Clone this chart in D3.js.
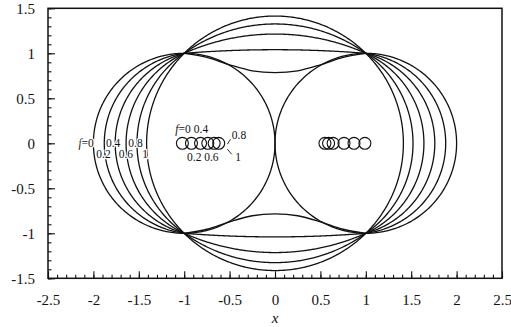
<!DOCTYPE html>
<html>
<head>
<meta charset="utf-8">
<script src="https://cdn.jsdelivr.net/npm/d3@7"></script>
<style>
  html, body { margin: 0; padding: 0; background: #fff; }
  svg { display: block; }
  svg text { font-family: "Liberation Serif", serif !important; }
</style>
</head>
<body>
<svg id="chart" width="511" height="327"></svg>
<script>
// Family of outlines through the four points (±1, ±1), one per value of f.
const fLevels   = [0, 0.2, 0.4, 0.6, 0.8, 1];
// half-width of each outline on the x axis (outer lobes)
const lobeHalfWidth = [2.0, 1.88, 1.76, 1.64, 1.52, 1.414];
// height of the upper boundary at x = 0 (0 means the outline pinches to the origin)
const crestHeight   = [0, 0.785, 1.04, 1.214, 1.326, 1.414];
// upper boundary of the f = 0.2 outline, read for -1 <= x <= 0
const dipProfile = [[-1, 1], [-0.75, 0.955], [-0.5, 0.872], [-0.25, 0.805], [0, 0.785]];

// small marker circles on the x axis
const leftMarkers  = [-1.02, -0.92, -0.82, -0.74, -0.67, -0.62];
const rightMarkers = [0.55, 0.59, 0.64, 0.76, 0.87, 0.99];
const markerRadius = 0.066;

const xTickValues = [-2.5, -2, -1.5, -1, -0.5, 0, 0.5, 1, 1.5, 2, 2.5];
const yTickValues = [-1.5, -1, -0.5, 0, 0.5, 1, 1.5];
const xTickLabels = ["-2.5", "-2", "-1.5", "-1", "-0.5", "0", "0.5", "1", "1.5", "2", "2.5"];
const yTickLabels = ["-1.5", "-1", "-0.5", "0", "0.5", "1", "1.5"];

// labels beside the outer lobes: [text, x, y, anchor]
const lobeLabels = [
  ["f=0", -1.995, -0.04, "end"],
  ["0.4", -1.862, -0.04, "start"],
  ["0.8", -1.615, -0.04, "start"],
  ["0.2", -1.968, -0.158, "start"],
  ["0.6", -1.722, -0.158, "start"],
  ["1",   -1.462, -0.158, "start"]
];
// labels around the left marker group
const markerLabels = [
  ["f=0", -1.098, 0.109],
  ["0.4", -0.894, 0.109],
  ["0.8", -0.476, 0.053],
  ["0.2", -0.969, -0.197],
  ["0.6", -0.78,  -0.197],
  ["1",   -0.437, -0.202]
];
// short leader lines from the last markers to their labels
const leaders = [
  [[-0.525, -0.01], [-0.49, 0.045]],
  [[-0.525, -0.065], [-0.477, -0.122]]
];

const W = 511, H = 327;
const margin = { left: 48, right: 9, top: 8.3, bottom: 48.7 };
const svg = d3.select("#chart");

const x = d3.scaleLinear().domain([-2.5, 2.5]).range([margin.left, W - margin.right]);
const y = d3.scaleLinear().domain([-1.5, 1.5]).range([H - margin.bottom, margin.top]);

// circle through three points, sampled from p1 to p3 passing p2
function arcThrough(p1, p2, p3, n = 160) {
  const [x1, y1] = p1, [x2, y2] = p2, [x3, y3] = p3;
  const d = 2 * (x1 * (y2 - y3) + x2 * (y3 - y1) + x3 * (y1 - y2));
  const s1 = x1 * x1 + y1 * y1, s2 = x2 * x2 + y2 * y2, s3 = x3 * x3 + y3 * y3;
  const ux = (s1 * (y2 - y3) + s2 * (y3 - y1) + s3 * (y1 - y2)) / d;
  const uy = (s1 * (x3 - x2) + s2 * (x1 - x3) + s3 * (x2 - x1)) / d;
  const r = Math.hypot(x1 - ux, y1 - uy);
  const TAU = Math.PI * 2;
  const norm = a => ((a % TAU) + TAU) % TAU;
  const a1 = Math.atan2(y1 - uy, x1 - ux);
  const a2 = Math.atan2(y2 - uy, x2 - ux);
  const a3 = Math.atan2(y3 - uy, x3 - ux);
  const d13 = norm(a3 - a1), d12 = norm(a2 - a1);
  const sweep = d12 < d13 ? d13 : d13 - TAU;
  return d3.range(n + 1).map(i => {
    const a = a1 + sweep * i / n;
    return [ux + r * Math.cos(a), uy + r * Math.sin(a)];
  });
}

const mirrorX = pts => pts.map(([a, b]) => [-a, b]);
const mirrorY = pts => pts.map(([a, b]) => [a, -b]);

const arcLine = d3.line().x(d => x(d[0])).y(d => y(d[1]));
const smoothLine = d3.line().x(d => x(d[0])).y(d => y(d[1])).curve(d3.curveCatmullRom.alpha(0.5));

const curves = svg.append("g")
  .attr("fill", "none")
  .attr("stroke", "#111")
  .attr("stroke-width", 1.3);

fLevels.forEach((f, i) => {
  // outer lobes
  const lobe = arcThrough([-1, 1], [-lobeHalfWidth[i], 0], [-1, -1]);
  curves.append("path").attr("d", arcLine(lobe));
  curves.append("path").attr("d", arcLine(mirrorX(lobe)));

  const h = crestHeight[i];
  if (h === 0) {
    // pinched outline: inner arcs meeting at the origin
    const inner = arcThrough([-1, 1], [0, 0], [-1, -1]);
    curves.append("path").attr("d", arcLine(inner));
    curves.append("path").attr("d", arcLine(mirrorX(inner)));
  } else if (f === 0.2) {
    const top = dipProfile.concat(mirrorX(dipProfile.slice(0, -1)).reverse());
    curves.append("path").attr("d", smoothLine(top));
    curves.append("path").attr("d", smoothLine(mirrorY(top)));
  } else {
    const top = arcThrough([-1, 1], [0, h], [1, 1]);
    curves.append("path").attr("d", arcLine(top));
    curves.append("path").attr("d", arcLine(mirrorY(top)));
  }
});

// marker circles
const markers = svg.append("g").attr("fill", "none").attr("stroke", "#111").attr("stroke-width", 1.1);
leftMarkers.concat(rightMarkers).forEach(c => {
  markers.append("ellipse")
    .attr("cx", x(c)).attr("cy", y(0))
    .attr("rx", x(markerRadius) - x(0))
    .attr("ry", y(0) - y(markerRadius));
});

leaders.forEach(seg => {
  markers.append("line")
    .attr("x1", x(seg[0][0])).attr("y1", y(seg[0][1]))
    .attr("x2", x(seg[1][0])).attr("y2", y(seg[1][1]))
    .attr("stroke-width", 0.9);
});

// label text with an italic f where present
function addLabel(g, txt, px, py, anchor, size) {
  const t = g.append("text")
    .attr("x", px).attr("y", py)
    .attr("text-anchor", anchor)
    .attr("font-size", size)
    .attr("fill", "#111");
  if (txt.startsWith("f=")) {
    t.append("tspan").attr("font-style", "italic").text("f");
    t.append("tspan").text(txt.slice(1));
  } else {
    t.text(txt);
  }
  return t;
}

const lobeLabelG = svg.append("g")
  .attr("stroke", "#fff").attr("stroke-width", 2.5)
  .attr("paint-order", "stroke").attr("stroke-linejoin", "round");
lobeLabels.forEach(([t, lx, ly, anchor]) => addLabel(lobeLabelG, t, x(lx), y(ly), anchor, 11.5));

const markerLabelG = svg.append("g");
markerLabels.forEach(([t, lx, ly]) => addLabel(markerLabelG, t, x(lx), y(ly), "start", 11.5));

// axes: inward major and minor ticks on bottom and left
const plotBottom = H - margin.bottom;
const xMinor = d3.range(-25, 26).map(k => k / 10);
const yMinor = d3.range(-15, 16).map(k => k / 10);

const xAxisMinor = svg.append("g").attr("transform", `translate(0,${plotBottom})`)
  .call(d3.axisBottom(x).tickValues(xMinor).tickSize(-3.5).tickFormat(""));
const yAxisMinor = svg.append("g").attr("transform", `translate(${margin.left},0)`)
  .call(d3.axisLeft(y).tickValues(yMinor).tickSize(-3.5).tickFormat(""));

const xAxis = svg.append("g").attr("transform", `translate(0,${plotBottom})`)
  .call(d3.axisBottom(x).tickValues(xTickValues).tickSize(-7).tickPadding(16)
    .tickFormat((d, i) => xTickLabels[i]));
const yAxis = svg.append("g").attr("transform", `translate(${margin.left},0)`)
  .call(d3.axisLeft(y).tickValues(yTickValues).tickSize(-7).tickPadding(13)
    .tickFormat((d, i) => yTickLabels[i]));

[xAxisMinor, yAxisMinor, xAxis, yAxis].forEach(g => {
  g.select(".domain").remove();
  g.selectAll(".tick line").attr("stroke", "#111").attr("stroke-width", 1.1);
  g.selectAll("text").attr("font-size", 15).attr("fill", "#111");
});

// plot frame
svg.append("rect")
  .attr("x", x(-2.5)).attr("y", y(1.5))
  .attr("width", x(2.5) - x(-2.5)).attr("height", y(-1.5) - y(1.5))
  .attr("fill", "none").attr("stroke", "#111").attr("stroke-width", 1.5);

// axis title
svg.append("text")
  .attr("x", x(0)).attr("y", 323)
  .attr("text-anchor", "middle")
  .attr("font-size", 15).attr("font-style", "italic").attr("fill", "#111")
  .text("x");
</script>
</body>
</html>
